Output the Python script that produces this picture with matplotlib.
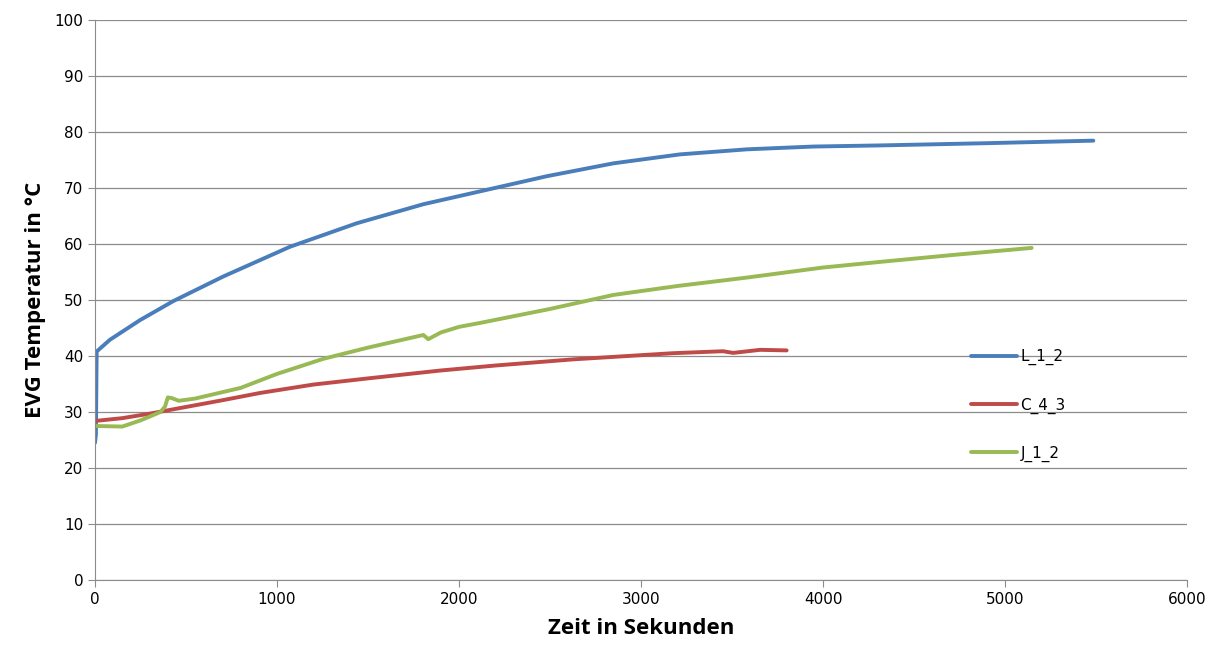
import matplotlib.pyplot as plt

# Temperaturverlauf der drei EVG-Messungen
l12_t = [0, 5, 9, 82, 247, 430, 705, 1071, 1438, 1804, 2170, 2482, 2848, 3214, 3581, 3947, 4313, 4900, 5485]
l12_T = [24.5, 26, 40.8, 42.9, 46.4, 49.8, 54.2, 59.5, 63.7, 67.1, 69.8, 72.1, 74.4, 76.0, 76.9, 77.4, 77.6,
         78.0, 78.45]

c43_t = [0, 150, 300, 500, 700, 907, 1200, 1500, 1896, 2200, 2628, 3176, 3451, 3506, 3654, 3800]
c43_T = [28.4, 28.9, 29.7, 30.9, 32.1, 33.4, 34.9, 36.0, 37.4, 38.3, 39.4, 40.5, 40.85, 40.55, 41.1, 41.0]

j12_t = [0, 150, 250, 360, 385, 400, 420, 460, 550, 800, 1000, 1255, 1500, 1804, 1831, 1900, 2000, 2115,
         2500, 2848, 3200, 3581, 4000, 4313, 4700, 5146]
j12_T = [27.5, 27.4, 28.5, 30.0, 31.0, 32.6, 32.5, 32.0, 32.4, 34.3, 36.8, 39.5, 41.5, 43.75, 43.0, 44.2,
         45.2, 45.9, 48.4, 50.9, 52.5, 54.0, 55.8, 56.8, 58.0, 59.3]

fig = plt.figure(figsize=(12.15, 6.57), dpi=100)
ax = fig.add_axes([0.0782, 0.1172, 0.8988, 0.8524])

ax.plot(l12_t, l12_T, color='#4a7ebb', lw=2.8, label='L_1_2', solid_capstyle='round')
ax.plot(c43_t, c43_T, color='#be4b48', lw=2.8, label='C_4_3', solid_capstyle='round')
ax.plot(j12_t, j12_T, color='#98b954', lw=2.8, label='J_1_2', solid_capstyle='round')

ax.set_xlim(0, 6000)
ax.set_ylim(0, 100)
ax.set_xticks(range(0, 6001, 1000))
ax.set_yticks(range(0, 101, 10))
ax.grid(axis='y', color='#8c8c8c', lw=0.9)
ax.set_axisbelow(True)
for s in ['top', 'right']:
    ax.spines[s].set_visible(False)
for s in ['left', 'bottom']:
    ax.spines[s].set_color('#8c8c8c')
ax.tick_params(colors='#8c8c8c', labelcolor='black', labelsize=11, length=5)

ax.set_xlabel('Zeit in Sekunden', fontsize=16, fontweight='bold', family='Open Sans', labelpad=8)
ax.set_ylabel('EVG Temperatur in °C', fontsize=16, fontweight='bold', family='Open Sans', labelpad=6)

ax.legend(loc='upper left', bbox_to_anchor=(0.79, 0.437), frameon=False, fontsize=11,
          handlelength=3.0, handletextpad=0.2, labelspacing=2.1)

plt.savefig('out.png')
